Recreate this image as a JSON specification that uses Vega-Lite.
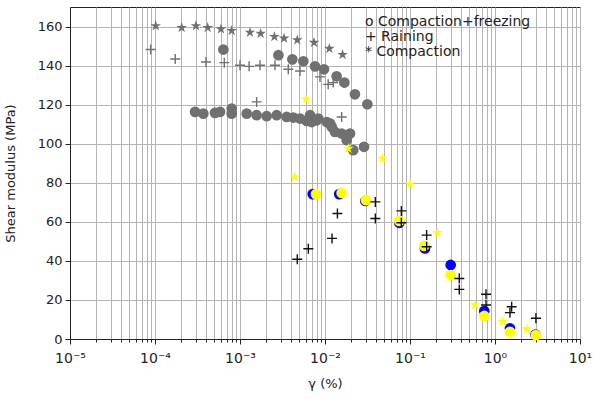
{
  "$schema": "https://vega.github.io/schema/vega-lite/v6.json",
  "width": 510,
  "height": 332,
  "autosize": {"type": "none"},
  "padding": {"left": 70, "top": 7, "right": 13, "bottom": 60},
  "background": "white",
  "config": {
    "font": "DejaVu Sans",
    "view": {"stroke": "#222222", "strokeWidth": 1},
    "axis": {
      "domainColor": "#222222",
      "tickColor": "#222222",
      "labelColor": "#222222",
      "titleColor": "#222222",
      "labelFont": "DejaVu Sans",
      "titleFont": "DejaVu Sans",
      "labelFontSize": 13,
      "titleFontSize": 13,
      "titleFontWeight": "normal",
      "gridColor": "#b4b4b4",
      "gridWidth": 1,
      "gridOpacity": 1
    }
  },
  "data": {
    "values": [
      {"s": "freezing_gray", "g": 0.000637, "G": 148.2}, {"s": "freezing_gray", "g": 0.00283, "G": 145.3},
      {"s": "freezing_gray", "g": 0.00413, "G": 143.2}, {"s": "freezing_gray", "g": 0.00556, "G": 142.2},
      {"s": "freezing_gray", "g": 0.00763, "G": 139.6}, {"s": "freezing_gray", "g": 0.00973, "G": 138.1},
      {"s": "freezing_gray", "g": 0.0137, "G": 134.5}, {"s": "freezing_gray", "g": 0.0169, "G": 131.3},
      {"s": "freezing_gray", "g": 0.0225, "G": 125.3}, {"s": "freezing_gray", "g": 0.0315, "G": 120.2},
      {"s": "freezing_gray", "g": 0.000296, "G": 116.3}, {"s": "freezing_gray", "g": 0.00037, "G": 115.4},
      {"s": "freezing_gray", "g": 0.000508, "G": 115.8}, {"s": "freezing_gray", "g": 0.000582, "G": 116.3},
      {"s": "freezing_gray", "g": 0.000798, "G": 118.0}, {"s": "freezing_gray", "g": 0.000798, "G": 115.4},
      {"s": "freezing_gray", "g": 0.0012, "G": 115.4}, {"s": "freezing_gray", "g": 0.00157, "G": 114.6},
      {"s": "freezing_gray", "g": 0.00206, "G": 114.1}, {"s": "freezing_gray", "g": 0.0027, "G": 114.6},
      {"s": "freezing_gray", "g": 0.00354, "G": 113.7}, {"s": "freezing_gray", "g": 0.00424, "G": 113.4},
      {"s": "freezing_gray", "g": 0.00508, "G": 112.9}, {"s": "freezing_gray", "g": 0.00608, "G": 111.7},
      {"s": "freezing_gray", "g": 0.00667, "G": 114.6}, {"s": "freezing_gray", "g": 0.00697, "G": 111.1},
      {"s": "freezing_gray", "g": 0.00798, "G": 112.0}, {"s": "freezing_gray", "g": 0.00835, "G": 112.9},
      {"s": "freezing_gray", "g": 0.0105, "G": 111.1}, {"s": "freezing_gray", "g": 0.0115, "G": 110.3},
      {"s": "freezing_gray", "g": 0.012, "G": 108.6}, {"s": "freezing_gray", "g": 0.0131, "G": 106.0},
      {"s": "freezing_gray", "g": 0.0157, "G": 105.2}, {"s": "freezing_gray", "g": 0.018, "G": 101.8},
      {"s": "freezing_gray", "g": 0.0197, "G": 105.2}, {"s": "freezing_gray", "g": 0.0215, "G": 96.7},
      {"s": "freezing_gray", "g": 0.0288, "G": 98.4},

      {"s": "raining_gray", "g": 0.0000889, "G": 148.2}, {"s": "raining_gray", "g": 0.000173, "G": 143.4},
      {"s": "raining_gray", "g": 0.000398, "G": 141.8}, {"s": "raining_gray", "g": 0.000654, "G": 141.5},
      {"s": "raining_gray", "g": 0.001, "G": 140.2}, {"s": "raining_gray", "g": 0.00128, "G": 139.6},
      {"s": "raining_gray", "g": 0.00172, "G": 140.2}, {"s": "raining_gray", "g": 0.00258, "G": 140.2},
      {"s": "raining_gray", "g": 0.0037, "G": 138.1}, {"s": "raining_gray", "g": 0.00508, "G": 137.2},
      {"s": "raining_gray", "g": 0.00873, "G": 134.2}, {"s": "raining_gray", "g": 0.0109, "G": 130.4},
      {"s": "raining_gray", "g": 0.0125, "G": 131.3}, {"s": "raining_gray", "g": 0.00157, "G": 121.4},
      {"s": "raining_gray", "g": 0.0157, "G": 113.7},

      {"s": "compaction_gray", "g": 0.000102, "G": 160.3}, {"s": "compaction_gray", "g": 0.000206, "G": 159.4},
      {"s": "compaction_gray", "g": 0.000303, "G": 160.3}, {"s": "compaction_gray", "g": 0.000417, "G": 159.4},
      {"s": "compaction_gray", "g": 0.000597, "G": 158.7}, {"s": "compaction_gray", "g": 0.000798, "G": 157.9},
      {"s": "compaction_gray", "g": 0.00131, "G": 157.0}, {"s": "compaction_gray", "g": 0.00175, "G": 156.4},
      {"s": "compaction_gray", "g": 0.00254, "G": 154.8}, {"s": "compaction_gray", "g": 0.0033, "G": 154.0},
      {"s": "compaction_gray", "g": 0.00472, "G": 153.1}, {"s": "compaction_gray", "g": 0.00743, "G": 151.8},
      {"s": "compaction_gray", "g": 0.01125, "G": 148.7}, {"s": "compaction_gray", "g": 0.0161, "G": 145.6},

      {"s": "freezing_blue", "g": 0.00717, "G": 74.2}, {"s": "freezing_blue", "g": 0.0147, "G": 74.2},
      {"s": "freezing_blue", "g": 0.0298, "G": 70.7}, {"s": "freezing_blue", "g": 0.0748, "G": 59.5},
      {"s": "freezing_blue", "g": 0.15, "G": 46.4}, {"s": "freezing_blue", "g": 0.301, "G": 37.9},
      {"s": "freezing_blue", "g": 0.748, "G": 14.3}, {"s": "freezing_blue", "g": 1.5, "G": 5.5},
      {"s": "freezing_blue", "g": 3.0, "G": 2.3},

      {"s": "freezing_yellow", "g": 0.00784, "G": 74.2}, {"s": "freezing_yellow", "g": 0.0157, "G": 74.8},
      {"s": "freezing_yellow", "g": 0.0303, "G": 71.1}, {"s": "freezing_yellow", "g": 0.0748, "G": 60.5},
      {"s": "freezing_yellow", "g": 0.147, "G": 47.7}, {"s": "freezing_yellow", "g": 0.301, "G": 32.7},
      {"s": "freezing_yellow", "g": 0.748, "G": 11.8}, {"s": "freezing_yellow", "g": 1.5, "G": 3.7},
      {"s": "freezing_yellow", "g": 3.03, "G": 2.0},

      {"s": "compaction_yellow", "g": 0.00597, "G": 122.8}, {"s": "compaction_yellow", "g": 0.0188, "G": 97.5},
      {"s": "compaction_yellow", "g": 0.00444, "G": 83.0}, {"s": "compaction_yellow", "g": 0.0473, "G": 92.4},
      {"s": "compaction_yellow", "g": 0.1, "G": 79.3}, {"s": "compaction_yellow", "g": 0.2096, "G": 54.4},
      {"s": "compaction_yellow", "g": 0.582, "G": 17.4}, {"s": "compaction_yellow", "g": 1.23, "G": 8.9},
      {"s": "compaction_yellow", "g": 2.36, "G": 5.1},

      {"s": "raining_black", "g": 0.00472, "G": 40.8}, {"s": "raining_black", "g": 0.00637, "G": 46.2},
      {"s": "raining_black", "g": 0.0121, "G": 51.5}, {"s": "raining_black", "g": 0.014, "G": 64.3},
      {"s": "raining_black", "g": 0.0391, "G": 70.2}, {"s": "raining_black", "g": 0.0391, "G": 61.7},
      {"s": "raining_black", "g": 0.0791, "G": 65.6}, {"s": "raining_black", "g": 0.0791, "G": 59.5},
      {"s": "raining_black", "g": 0.157, "G": 53.2}, {"s": "raining_black", "g": 0.157, "G": 47.2},
      {"s": "raining_black", "g": 0.38, "G": 31.0}, {"s": "raining_black", "g": 0.38, "G": 25.4},
      {"s": "raining_black", "g": 0.784, "G": 22.9}, {"s": "raining_black", "g": 0.784, "G": 17.4},
      {"s": "raining_black", "g": 1.57, "G": 16.5}, {"s": "raining_black", "g": 1.5, "G": 13.5},
      {"s": "raining_black", "g": 3.03, "G": 10.6},

      {"s": "legend", "g": 0.0295, "G": 162.3, "label": "o Compaction+freezing"},
      {"s": "legend", "g": 0.0295, "G": 154.6, "label": "+ Raining"},
      {"s": "legend", "g": 0.0295, "G": 146.9, "label": "* Compaction"}
    ]
  },
  "encoding": {
    "x": {
      "field": "g",
      "type": "quantitative",
      "scale": {"type": "log", "domain": [0.00001, 10], "nice": false},
      "axis": {
        "title": "γ (%)",
        "titlePadding": 12,
        "grid": true,
        "labelOverlap": false,
        "labelFlush": false,
        "labelPadding": 7,
        "labelFontSize": 14,
        "values": [
          0.00001, 0.00002, 0.00003, 0.00004, 0.00005, 0.00006, 0.00007, 0.00008, 0.00009,
          0.0001, 0.0002, 0.0003, 0.0004, 0.0005, 0.0006, 0.0007, 0.0008, 0.0009,
          0.001, 0.002, 0.003, 0.004, 0.005, 0.006, 0.007, 0.008, 0.009,
          0.01, 0.02, 0.03, 0.04, 0.05, 0.06, 0.07, 0.08, 0.09,
          0.1, 0.2, 0.3, 0.4, 0.5, 0.6, 0.7, 0.8, 0.9,
          1, 2, 3, 4, 5, 6, 7, 8, 9, 10
        ],
        "labelExpr": "abs(log(datum.value)/LN10 - round(log(datum.value)/LN10)) < 0.001 ? ['10⁻⁵','10⁻⁴','10⁻³','10⁻²','10⁻¹','10⁰','10¹'][round(log(datum.value)/LN10) + 5] : ''",
        "tickSize": {
          "condition": {"test": "abs(log(datum.value)/LN10 - round(log(datum.value)/LN10)) < 0.001", "value": 5},
          "value": 3
        }
      }
    },
    "y": {
      "field": "G",
      "type": "quantitative",
      "scale": {"domain": [0, 170], "nice": false, "zero": true},
      "axis": {
        "title": "Shear modulus (MPa)",
        "titlePadding": 20,
        "grid": true,
        "values": [0, 20, 40, 60, 80, 100, 120, 140, 160],
        "tickSize": 5,
        "labelPadding": 3
      }
    }
  },
  "layer": [
    {
      "transform": [{"filter": "datum.s == 'freezing_gray'"}],
      "mark": {"type": "point", "shape": "circle", "filled": true, "color": "#707070", "opacity": 1, "size": 115}
    },
    {
      "transform": [{"filter": "datum.s == 'raining_gray'"}],
      "mark": {"type": "point", "shape": "M-1,0H1M0,-1V1", "filled": false, "stroke": "#707070", "strokeWidth": 1.4, "opacity": 1, "size": 100}
    },
    {
      "transform": [{"filter": "datum.s == 'compaction_gray'"}],
      "mark": {"type": "point", "shape": "M0,-1L0.2245,-0.309L0.9511,-0.309L0.3633,0.118L0.5878,0.809L0,0.382L-0.5878,0.809L-0.3633,0.118L-0.9511,-0.309L-0.2245,-0.309Z", "filled": true, "color": "#707070", "opacity": 1, "size": 125}
    },
    {
      "transform": [{"filter": "datum.s == 'freezing_blue'"}],
      "mark": {"type": "point", "shape": "circle", "filled": true, "color": "#0000ff", "opacity": 1, "size": 115}
    },
    {
      "transform": [{"filter": "datum.s == 'freezing_yellow'"}],
      "mark": {"type": "point", "shape": "circle", "filled": true, "color": "#ffff00", "opacity": 1, "size": 115}
    },
    {
      "transform": [{"filter": "datum.s == 'compaction_yellow'"}],
      "mark": {"type": "point", "shape": "M0,-1L0.2245,-0.309L0.9511,-0.309L0.3633,0.118L0.5878,0.809L0,0.382L-0.5878,0.809L-0.3633,0.118L-0.9511,-0.309L-0.2245,-0.309Z", "filled": true, "color": "#ffff00", "opacity": 1, "size": 125}
    },
    {
      "transform": [{"filter": "datum.s == 'raining_black'"}],
      "mark": {"type": "point", "shape": "M-1,0H1M0,-1V1", "filled": false, "stroke": "#111111", "strokeWidth": 1.4, "opacity": 1, "size": 100}
    },
    {
      "transform": [{"filter": "datum.s == 'legend'"}],
      "mark": {"type": "text", "align": "left", "baseline": "middle", "font": "DejaVu Sans", "fontSize": 14, "color": "#222222"},
      "encoding": {"text": {"field": "label"}}
    }
  ]
}
